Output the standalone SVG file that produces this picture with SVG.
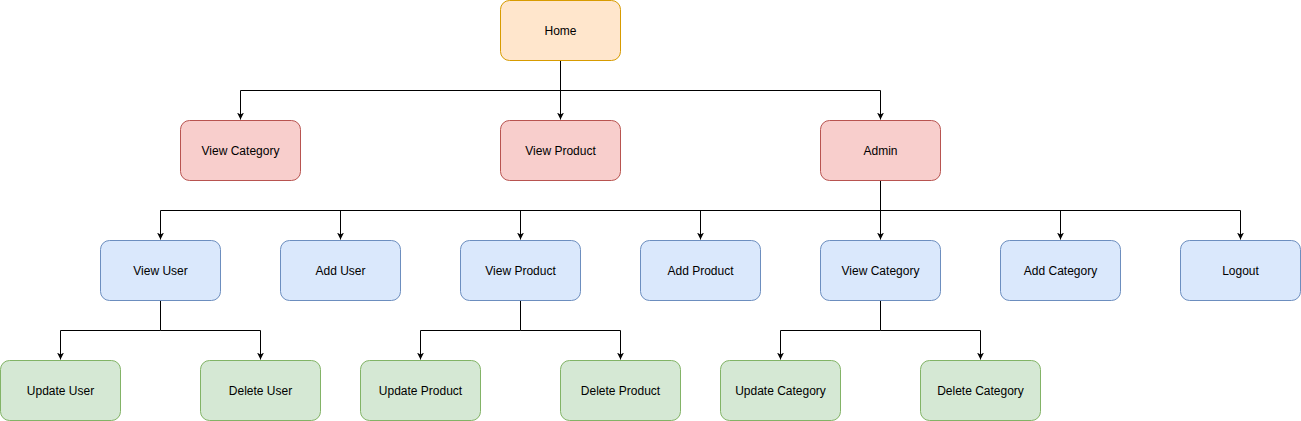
<svg xmlns="http://www.w3.org/2000/svg" width="1301" height="421" viewBox="0 0 1301 421">
<style>
.n rect{stroke-width:1}
.o rect{fill:#ffe6cc;stroke:#d79b00}
.r rect{fill:#f8cecc;stroke:#b85450}
.b rect{fill:#dae8fc;stroke:#6c8ebf}
.g rect{fill:#d5e8d4;stroke:#82b366}
text{font-family:"Liberation Sans",Arial,sans-serif;font-size:12px;fill:#000;text-anchor:middle;dominant-baseline:central}
.c path{fill:none;stroke:#000;stroke-width:1}
</style>
<defs>
<marker id="a" viewBox="0 0 10 10" refX="10" refY="5" markerWidth="7" markerHeight="7" markerUnits="userSpaceOnUse" orient="auto">
<path d="M0,0 L10,5 L0,10 L3,5 Z" fill="#000"/>
</marker>
</defs>
<rect width="1301" height="421" fill="#fff"/>
<g id="connectors" class="c">
<path d="M560.5,60.5 V90.5 H240.5 V119.5" marker-end="url(#a)"/>
<path d="M560.5,60.5 V119.5" marker-end="url(#a)"/>
<path d="M560.5,90.5 H880.5 V119.5" marker-end="url(#a)"/>
<path d="M880.5,180.5 V210.5 H160.5 V239.5" marker-end="url(#a)"/>
<path d="M340.5,210.5 V239.5" marker-end="url(#a)"/>
<path d="M520.5,210.5 V239.5" marker-end="url(#a)"/>
<path d="M700.5,210.5 V239.5" marker-end="url(#a)"/>
<path d="M880.5,180.5 V239.5" marker-end="url(#a)"/>
<path d="M880.5,210.5 H1240.5 V239.5" marker-end="url(#a)"/>
<path d="M1060.5,210.5 V239.5" marker-end="url(#a)"/>
<path d="M160.5,300.5 V330.5 H60.5 V359.5" marker-end="url(#a)"/>
<path d="M160.5,330.5 H260.5 V359.5" marker-end="url(#a)"/>
<path d="M520.5,300.5 V330.5 H420.5 V359.5" marker-end="url(#a)"/>
<path d="M520.5,330.5 H620.5 V359.5" marker-end="url(#a)"/>
<path d="M880.5,300.5 V330.5 H780.5 V359.5" marker-end="url(#a)"/>
<path d="M880.5,330.5 H980.5 V359.5" marker-end="url(#a)"/>
</g>
<g id="home" class="n o"><rect x="500.5" y="0.5" width="120" height="60" rx="9"/><text x="560.5" y="30.5">Home</text></g>
<g id="view-category-top" class="n r"><rect x="180.5" y="120.5" width="120" height="60" rx="9"/><text x="240.5" y="150.5">View Category</text></g>
<g id="view-product-top" class="n r"><rect x="500.5" y="120.5" width="120" height="60" rx="9"/><text x="560.5" y="150.5">View Product</text></g>
<g id="admin" class="n r"><rect x="820.5" y="120.5" width="120" height="60" rx="9"/><text x="880.5" y="150.5">Admin</text></g>
<g id="view-user" class="n b"><rect x="100.5" y="240.5" width="120" height="60" rx="9"/><text x="160.5" y="270.5">View User</text></g>
<g id="add-user" class="n b"><rect x="280.5" y="240.5" width="120" height="60" rx="9"/><text x="340.5" y="270.5">Add User</text></g>
<g id="view-product" class="n b"><rect x="460.5" y="240.5" width="120" height="60" rx="9"/><text x="520.5" y="270.5">View Product</text></g>
<g id="add-product" class="n b"><rect x="640.5" y="240.5" width="120" height="60" rx="9"/><text x="700.5" y="270.5">Add Product</text></g>
<g id="view-category" class="n b"><rect x="820.5" y="240.5" width="120" height="60" rx="9"/><text x="880.5" y="270.5">View Category</text></g>
<g id="add-category" class="n b"><rect x="1000.5" y="240.5" width="120" height="60" rx="9"/><text x="1060.5" y="270.5">Add Category</text></g>
<g id="logout" class="n b"><rect x="1180.5" y="240.5" width="120" height="60" rx="9"/><text x="1240.5" y="270.5">Logout</text></g>
<g id="update-user" class="n g"><rect x="0.5" y="360.5" width="120" height="60" rx="9"/><text x="60.5" y="390.5">Update User</text></g>
<g id="delete-user" class="n g"><rect x="200.5" y="360.5" width="120" height="60" rx="9"/><text x="260.5" y="390.5">Delete User</text></g>
<g id="update-product" class="n g"><rect x="360.5" y="360.5" width="120" height="60" rx="9"/><text x="420.5" y="390.5">Update Product</text></g>
<g id="delete-product" class="n g"><rect x="560.5" y="360.5" width="120" height="60" rx="9"/><text x="620.5" y="390.5">Delete Product</text></g>
<g id="update-category" class="n g"><rect x="720.5" y="360.5" width="120" height="60" rx="9"/><text x="780.5" y="390.5">Update Category</text></g>
<g id="delete-category" class="n g"><rect x="920.5" y="360.5" width="120" height="60" rx="9"/><text x="980.5" y="390.5">Delete Category</text></g>
</svg>
